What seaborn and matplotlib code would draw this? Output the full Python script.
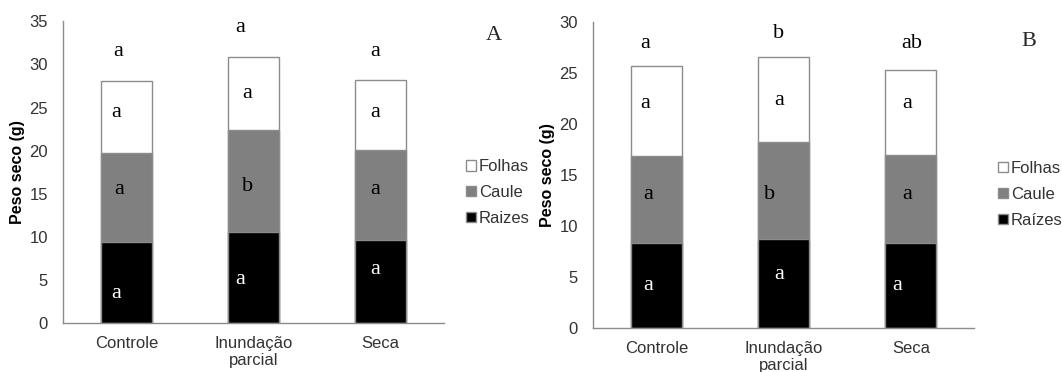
#!/usr/bin/env python3
"""
Purpose: Peso seco (raizes, caule, folhas) por tratamento, painéis A e B
"""

import matplotlib
matplotlib.use('Agg')
import matplotlib.pyplot as plt
import numpy as np
import pandas as pd
import seaborn as sns
from matplotlib.patches import Patch

# --------------------------------------------------
# data
tratamentos = ['Controle', 'Inundação\nparcial', 'Seca']

raizes_a = [9.45, 10.55, 9.6]
caule_a = [10.3, 11.85, 10.5]
folhas_a = [8.3, 8.4, 8.1]

raizes_b = [8.4, 8.7, 8.4]
caule_b = [8.5, 9.55, 8.55]
folhas_b = [8.8, 8.3, 8.3]

# letters of the mean-comparison test (top, folhas, caule, raizes)
letras_a = {
    'total': (['a', 'a', 'a'], [31.5, 34.3, 31.5], [-0.07, -0.11, -0.04]),
    'folhas': (['a', 'a', 'a'], [24.4, 26.6, 24.4], [-0.08, -0.05, -0.04]),
    'caule': (['a', 'b', 'a'], [15.5, 15.9, 15.5], [-0.06, -0.05, -0.04]),
    'raizes': (['a', 'a', 'a'], [3.5, 5.1, 6.2], [-0.08, -0.11, -0.04]),
}
letras_b = {
    'total': (['a', 'b', 'ab'], [27.85, 28.9, 27.85], [-0.09, -0.04, 0.01]),
    'folhas': (['a', 'a', 'a'], [22.0, 22.3, 22.0], [-0.09, -0.04, -0.03]),
    'caule': (['a', 'b', 'a'], [13.1, 13.1, 13.1], [-0.07, -0.11, -0.03]),
    'raizes': (['a', 'a', 'a'], [4.2, 5.3, 4.2], [-0.07, -0.04, -0.11]),
}

EDGE = '#8c8c8c'
TXT = '#333333'


# --------------------------------------------------
def draw(ax, raizes, caule, folhas, letras, ymax, legenda_raiz):
    """Stacked bars through seaborn"""
    df = pd.DataFrame({'trat': tratamentos,
                       'raizes': raizes,
                       'caule': caule,
                       'folhas': folhas})
    df['cum_caule'] = df['raizes'] + df['caule']
    df['cum_folhas'] = df['cum_caule'] + df['folhas']

    for col, color in [('cum_folhas', 'white'), ('cum_caule', '#808080'),
                       ('raizes', 'black')]:
        sns.barplot(data=df, x='trat', y=col, color=color, width=0.4,
                    edgecolor=EDGE, linewidth=1.0, saturation=1, ax=ax)

    for key, (labs, ys, dx) in letras.items():
        for i, (lab, y, d) in enumerate(zip(labs, ys, dx)):
            ax.text(i + d, y, lab, ha='center', va='center',
                    fontsize=16, family='Liberation Serif',
                    color='white' if key == 'raizes' else 'black')

    ax.set_xlim(-0.5, 2.5)
    ax.set_ylim(0, ymax)
    ax.set_yticks(np.arange(0, ymax + 1, 5))
    ax.set_xlabel('')
    ax.set_ylabel('Peso seco (g)', fontsize=11.5, fontweight='bold',
                  color='black', labelpad=3)
    ax.set_xticks([0, 1, 2])
    ax.set_xticklabels(tratamentos, fontsize=12, color=TXT, linespacing=1.2)
    ax.set_xticks([0.5, 1.5, 2.5], minor=True)
    ax.tick_params(axis='x', which='major', length=0, pad=9)
    ax.tick_params(axis='x', which='minor', length=4, color=EDGE,
                   direction='out')
    ax.tick_params(axis='y', length=4, color=EDGE, labelsize=12,
                   labelcolor=TXT, direction='out', pad=7)
    for s in ['top', 'right']:
        ax.spines[s].set_visible(False)
    for s in ['left', 'bottom']:
        ax.spines[s].set_color(EDGE)
        ax.spines[s].set_linewidth(1.0)

    handles = [Patch(facecolor='white', edgecolor=EDGE, label='Folhas'),
               Patch(facecolor='#808080', edgecolor=EDGE, label='Caule'),
               Patch(facecolor='black', edgecolor=EDGE, label=legenda_raiz)]
    return handles


# --------------------------------------------------
def main():
    sns.set_style('white')
    plt.rcParams['font.family'] = ['Liberation Sans', 'DejaVu Sans']

    fig = plt.figure(figsize=(10.62, 3.72), dpi=100)
    ax_a = fig.add_axes([0.0596, 0.1309, 0.3585, 0.812])
    ax_b = fig.add_axes([0.5587, 0.1175, 0.3588, 0.8234])

    h_a = draw(ax_a, raizes_a, caule_a, folhas_a, letras_a, 35, 'Raizes')
    h_b = draw(ax_b, raizes_b, caule_b, folhas_b, letras_b, 30, 'Raízes')

    for handles, x, y in [(h_a, 0.439, 0.572), (h_b, 0.94, 0.567)]:
        fig.legend(handles=handles, loc='upper left', bbox_to_anchor=(x, y),
                   frameon=False, fontsize=12, handlelength=0.6,
                   handleheight=0.6, handletextpad=0.15, labelspacing=0.65,
                   borderaxespad=0, borderpad=0, labelcolor=TXT)

    fig.text(0.465, 0.904, 'A', fontsize=16, family='Liberation Serif',
             ha='center', va='center')
    fig.text(0.969, 0.888, 'B', fontsize=16, family='Liberation Serif',
             ha='center', va='center')

    fig.savefig('out.png', dpi=100)


# --------------------------------------------------
if __name__ == '__main__':
    main()
